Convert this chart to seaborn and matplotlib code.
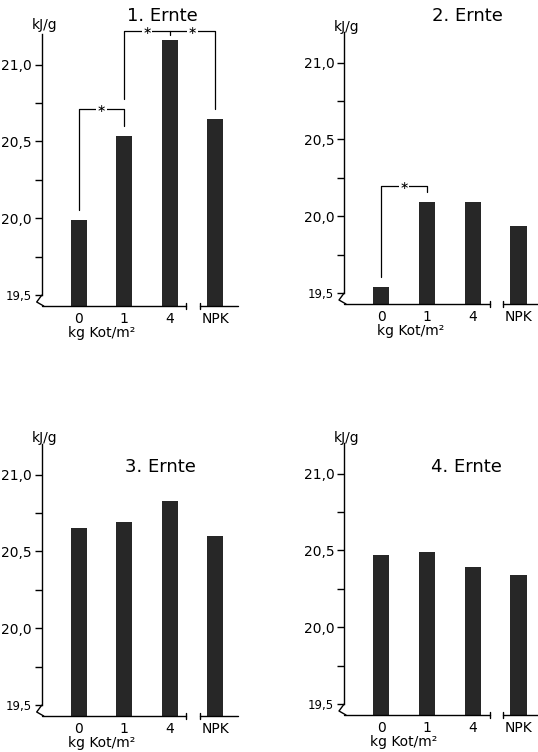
import matplotlib
matplotlib.use("Agg")
import matplotlib.pyplot as plt
import matplotlib.transforms as mtransforms
import seaborn as sns

# ---- data ----
categories = ["0", "1", "4", "NPK"]
ernte_1 = [19.99, 20.535, 21.16, 20.645]
ernte_2 = [19.54, 20.095, 20.095, 19.935]
ernte_3 = [20.65, 20.69, 20.83, 20.60]
ernte_4 = [20.47, 20.49, 20.39, 20.34]
titles = ["1. Ernte", "2. Ernte", "3. Ernte", "4. Ernte"]
y_ticks = [19.5, 20.0, 20.5, 21.0]
y_tick_labels = ["19,5", "20,0", "20,5", "21,0"]
y_minor = [19.75, 20.25, 20.75]
unit_label = "kJ/g"
x_label = "kg Kot/m\u00b2"

sns.set_style("white")
plt.rcParams["font.family"] = ["DejaVu Sans"]
plt.rcParams["text.color"] = "black"
plt.rcParams["axes.labelcolor"] = "black"
plt.rcParams["xtick.color"] = "black"
plt.rcParams["ytick.color"] = "black"

W, H = 538, 752
fig = plt.figure(figsize=(W / 100, H / 100), dpi=100)
fig.patch.set_facecolor("white")

YMIN, YMAX = 19.43, 21.2
XMIN, XMAX = -0.81, 3.5
PXU = 153.8
ax_h = (YMAX - YMIN) * PXU
BAR_COLOR = "#272727"

# left px, baseline px, bar spacing px, title pos, unit label pos, xlabel x (data)
layout = [
    (41.7, 306, 45.5, (162, 16), (45, 25), 0.5),
    (344, 304, 45.8, (467, 16), (347, 27), 0.65),
    (41.7, 716, 45.5, (160, 467), (45, 438), 0.5),
    (344, 715, 45.8, (466, 467), (347, 438), 0.5),
]
series = [ernte_1, ernte_2, ernte_3, ernte_4]
axes = []

for vals, title, (left, base, sp, tpos, upos, xlx) in zip(series, titles, layout):
    ax_w = (XMAX - XMIN) * sp
    ax = fig.add_axes([left / W, 1 - base / H, ax_w / W, ax_h / H])
    ax.set_facecolor("none")
    sns.barplot(x=categories, y=vals, color=BAR_COLOR, width=0.35,
                saturation=1, ax=ax, edgecolor="none")
    ax.set_xlim(XMIN, XMAX)
    ax.set_ylim(YMIN, YMAX)
    ax.set_xlabel("")
    ax.set_ylabel("")
    for s in ("top", "right", "bottom"):
        ax.spines[s].set_visible(False)
    ax.spines["left"].set_bounds(19.5, YMAX)
    ax.spines["left"].set_linewidth(1.0)
    ax.spines["left"].set_color("black")
    ax.set_yticks(y_ticks)
    ax.set_yticklabels(y_tick_labels)
    ax.set_yticks(y_minor, minor=True)
    ax.tick_params(axis="y", which="both", direction="out", length=5, width=1,
                   color="black", labelcolor="black", labelsize=10, pad=2, left=True)
    ax.get_yticklabels()[0].set_fontsize(8.5)
    ax.tick_params(axis="x", length=0, pad=4, labelsize=10, labelcolor="black")

    trans = mtransforms.blended_transform_factory(ax.transData, ax.transAxes)
    # broken x axis
    ax.plot([XMIN, 2.37], [0, 0], transform=trans, color="black", lw=1, clip_on=False)
    ax.plot([2.66, XMAX], [0, 0], transform=trans, color="black", lw=1, clip_on=False)
    for xb in (2.37, 2.66):
        ax.plot([xb, xb], [-3 / ax_h, 3 / ax_h], transform=trans, color="black",
                lw=1, clip_on=False)
    # y axis break zigzag
    zx = [0, -5 / ax_w, 2 / ax_w]
    zy = [(19.5 - YMIN) * PXU / ax_h, 4 / ax_h, 0]
    ax.plot(zx, zy, transform=ax.transAxes, color="black", lw=1, clip_on=False)

    ax.text(xlx, -27 / ax_h, x_label, transform=trans, ha="center", va="center",
            fontsize=10, color="black")
    fig.text(tpos[0] / W, 1 - tpos[1] / H, title, ha="center", va="center",
             fontsize=13, fontweight="normal", color="black")
    fig.text(upos[0] / W, 1 - upos[1] / H, unit_label, ha="center", va="center",
             fontsize=10, color="black")
    axes.append(ax)


def bracket(ax, xl, xr, ytop, yl, yr, stars, mids=()):
    kw = dict(color="black", lw=0.9, clip_on=False)
    ax.plot([xl, xl, xr, xr], [yl, ytop, ytop, yr], **kw)
    for xm, ym in mids:
        ax.plot([xm, xm], [ytop, ym], **kw)
    for xs in stars:
        ax.text(xs, ytop, "\u2217", ha="center", va="center", fontsize=8,
                color="black",
                bbox=dict(boxstyle="square,pad=0.05", fc="white", ec="none"),
                zorder=5, clip_on=False)


off = 0.065
a1 = axes[0]
bracket(a1, 0, 1, 20.71, ernte_1[0] + off, ernte_1[1] + off, [0.5])
bracket(a1, 1, 3, 21.22, 20.71 + off, ernte_1[3] + off, [1.5, 2.5],
        mids=[(2, 21.19)])
a2 = axes[1]
bracket(a2, 0, 1, 20.2, ernte_2[0] + off, ernte_2[1] + off, [0.5])

fig.savefig("out.png", dpi=100, facecolor="white")
